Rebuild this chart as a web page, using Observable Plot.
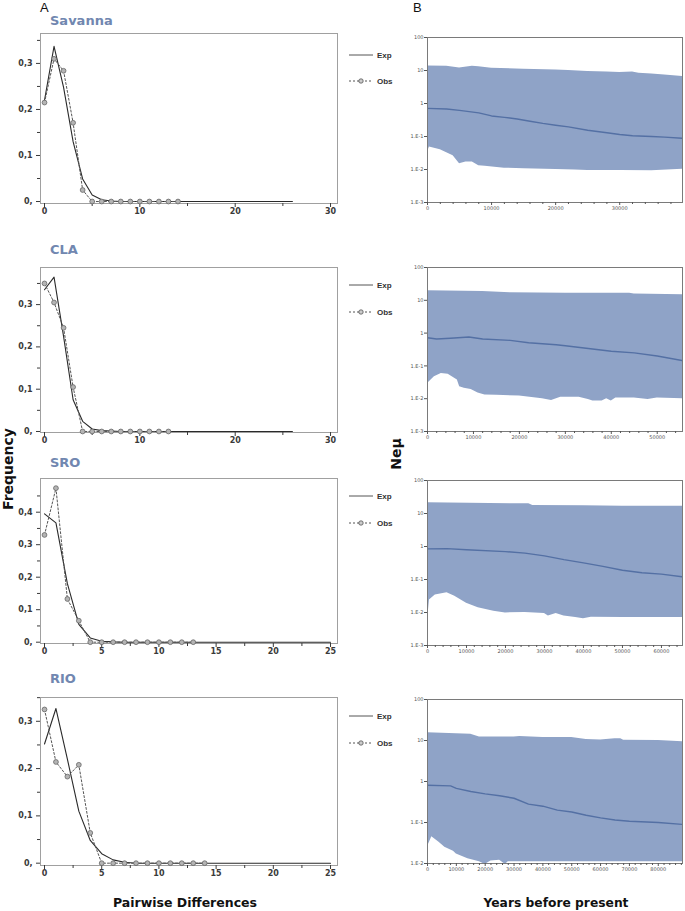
<!DOCTYPE html>
<html><head><meta charset="utf-8">
<script src="https://cdn.jsdelivr.net/npm/d3@7"></script>
<script src="https://cdn.jsdelivr.net/npm/@observablehq/plot@0.6"></script>
<style>
body{margin:0;background:#fff;}
#chart{position:relative;width:685px;height:911px;overflow:hidden;font-family:"DejaVu Sans",sans-serif;}
#chart svg{position:absolute;overflow:visible;}
</style></head><body><div id="chart"></div>
<script>
// ---------- Mismatch distributions (left, panel A) ----------
const populations = ["Savanna", "CLA", "SRO", "RIO"];
const savExp = [0.22,0.337,0.248,0.13,0.049,0.014,0.004,0.001,0,0,0,0,0,0,0,0,0,0,0,0,0,0,0,0,0,0,0];
const savObs = [0.215,0.31,0.284,0.171,0.025,0,0,0,0,0,0,0,0,0,0];
const claExp = [0.335,0.365,0.225,0.075,0.024,0.006,0.002,0.001,0,0,0,0,0,0,0,0,0,0,0,0,0,0,0,0,0,0,0];
const claObs = [0.35,0.305,0.245,0.105,0,0,0,0,0,0,0,0,0,0];
const sroExp = [0.395,0.367,0.18,0.055,0.013,0.003,0.001,0,0,0,0,0,0,0,0,0,0,0,0,0,0,0,0,0,0,0];
const sroObs = [0.33,0.474,0.133,0.066,0,0,0,0,0,0,0,0,0,0];
const rioExp = [0.252,0.327,0.22,0.11,0.048,0.02,0.007,0.002,0,0,0,0,0,0,0,0,0,0,0,0,0,0,0,0,0,0];
const rioObs = [0.325,0.214,0.183,0.208,0.064,0,0,0,0,0,0,0,0,0,0];
const freqTicks30 = [0,10,20,30];
const freqTicks25 = [0,5,10,15,20,25];
const savYTicks = [0,0.1,0.2,0.3];
const claYTicks = [0,0.1,0.2,0.3];
const sroYTicks = [0,0.1,0.2,0.3,0.4];
const rioYTicks = [0,0.1,0.2,0.3];

// ---------- Bayesian skyline plots (right, panel B) : [years, Neμ] ----------
const savUpper = [[0,13.8],[3000,13.5],[5000,12.0],[7000,13.5],[8000,13.0],[10000,11.8],[15000,11.0],[20000,10.4],[22000,10.0],[25000,9.3],[28000,9.0],[30000,8.7],[32000,9.0],[33000,8.3],[35000,7.8],[37000,7.3],[39800,6.6]];
const savMedian = [[0,0.71],[3000,0.68],[5000,0.62],[8000,0.52],[10000,0.42],[12000,0.38],[14000,0.34],[16000,0.29],[18000,0.25],[20000,0.22],[22000,0.195],[25000,0.155],[28000,0.13],[30000,0.115],[32000,0.105],[35000,0.10],[37000,0.096],[39800,0.088]];
const savLower = [[0,0.034],[300,0.048],[2000,0.04],[4000,0.026],[5000,0.015],[6000,0.017],[7000,0.017],[8000,0.013],[9000,0.0125],[12000,0.011],[15000,0.0105],[20000,0.010],[23000,0.0097],[25000,0.0093],[30000,0.0094],[35000,0.0092],[39800,0.0101]];
const claUpper = [[0,19.6],[12000,18.4],[18000,17.0],[30000,16.3],[44000,16.3],[45000,15.6],[55500,14.8]];
const claMedian = [[0,0.72],[2000,0.66],[5000,0.70],[9000,0.76],[12000,0.66],[18000,0.60],[22000,0.51],[28000,0.44],[30000,0.41],[35000,0.34],[40000,0.28],[45000,0.25],[50000,0.20],[55500,0.145]];
const claLower = [[0,0.029],[1500,0.047],[3000,0.059],[4500,0.056],[6500,0.037],[7000,0.023],[8000,0.021],[9500,0.019],[11000,0.015],[12500,0.013],[15000,0.0128],[20000,0.012],[25000,0.010],[27000,0.0088],[29000,0.011],[33000,0.011],[35000,0.0095],[36000,0.0085],[38000,0.0085],[39000,0.010],[40000,0.0085],[41000,0.0105],[45000,0.0105],[48000,0.0095],[50000,0.0105],[55500,0.010]];
const sroUpper = [[0,21],[26000,19.6],[27000,17.5],[40000,17.2],[50000,16.5],[65400,16.5]];
const sroMedian = [[0,0.85],[5000,0.86],[10000,0.80],[20000,0.70],[25000,0.63],[30000,0.52],[35000,0.40],[40000,0.32],[45000,0.25],[50000,0.19],[55000,0.16],[60000,0.145],[65400,0.12]];
const sroLower = [[0,0.0057],[500,0.024],[2000,0.034],[5000,0.04],[7000,0.031],[10000,0.019],[13000,0.014],[17000,0.011],[20000,0.0097],[25000,0.010],[30000,0.0093],[31000,0.0078],[33000,0.0093],[35000,0.0078],[38000,0.0070],[40000,0.0065],[42000,0.0072],[50000,0.0070],[65400,0.0070]];
const rioUpper = [[0,15.4],[15000,14.3],[18000,12.2],[30000,12.2],[32000,12.6],[40000,11.9],[50000,11.9],[55000,10.6],[60000,10.3],[65000,11.0],[67000,11.0],[68000,10.2],[80000,10.0],[88400,9.3]];
const rioMedian = [[0,0.81],[8000,0.78],[10000,0.68],[15000,0.57],[20000,0.50],[25000,0.45],[30000,0.39],[35000,0.28],[40000,0.25],[45000,0.20],[50000,0.18],[55000,0.15],[60000,0.13],[65000,0.115],[70000,0.107],[80000,0.10],[88400,0.09]];
const rioLower = [[0,0.0255],[1500,0.045],[4000,0.033],[6000,0.025],[9000,0.02],[10000,0.017],[14000,0.013],[18000,0.011],[20000,0.0095],[22000,0.0115],[25000,0.012],[27000,0.0095],[28000,0.011],[40000,0.011],[60000,0.011],[88400,0.011]];
const yearTicks40 = [0,10000,20000,30000];
const yearTicks55 = [0,10000,20000,30000,40000,50000];
const yearTicks65 = [0,10000,20000,30000,40000,50000,60000];
const yearTicks88 = [0,10000,20000,30000,40000,50000,60000,70000,80000];
const neTicks5 = [0.001,0.01,0.1,1,10,100];
const neTicks4 = [0.01,0.1,1,10,100];

const legendLabels = ["Exp", "Obs"];

// ---------- layout ----------
const chart = document.getElementById("chart");
const fmtComma = d => d === 0 ? "0," : String(d).replace(".", ",");
const fmtNe = d => d >= 1 ? String(d) : "1.E" + Math.round(Math.log10(d));

const leftCfg = [
  {exp: savExp, obs: savObs, yt: savYTicks, xt: freqTicks30, frame: [33, 203], yDom: [-0.0043, 0.365], xDom: [-0.42, 30.73], leg: [55, 81]},
  {exp: claExp, obs: claObs, yt: claYTicks, xt: freqTicks30, frame: [267, 432], yDom: [-0.0024, 0.3877], xDom: [-0.42, 30.73], leg: [285, 312]},
  {exp: sroExp, obs: sroObs, yt: sroYTicks, xt: freqTicks25, frame: [478, 643], yDom: [-0.004, 0.5037], xDom: [-0.35, 25.61], leg: [496, 523]},
  {exp: rioExp, obs: rioObs, yt: rioYTicks, xt: freqTicks25, frame: [697, 865], yDom: [-0.0049, 0.3503], xDom: [-0.35, 25.61], leg: [716, 743]}
];
const rightCfg = [
  {up: savUpper, md: savMedian, lo: savLower, xt: yearTicks40, frame: [37, 202], xMax: 39800, yt: neTicks5},
  {up: claUpper, md: claMedian, lo: claLower, xt: yearTicks55, frame: [267, 431], xMax: 55500, yt: neTicks5},
  {up: sroUpper, md: sroMedian, lo: sroLower, xt: yearTicks65, frame: [480, 645], xMax: 65400, yt: neTicks5},
  {up: rioUpper, md: rioMedian, lo: rioLower, xt: yearTicks88, frame: [699, 863], xMax: 88400, yt: neTicks4}
];

function place(svg, left, top) {
  svg.style.position = "absolute";
  svg.style.left = left + "px";
  svg.style.top = top + "px";
  chart.appendChild(svg);
}

leftCfg.forEach(p => {
  const expData = p.exp.map((v, i) => ({x: i, y: v}));
  const obsData = p.obs.map((v, i) => ({x: i, y: v}));
  const step = p.yt[1] - p.yt[0];
  const yMinor = p.yt.map(t => +(t + step / 2).toFixed(3)).filter(t => t < p.yDom[1]);
  const xs = p.xt[1] - p.xt[0];
  const xMinor = p.xt.slice(0, -1).map(t => t + xs / 2);
  const mt = 6, mb = 20;
  const svg = Plot.plot({
    width: 340, height: p.frame[1] - p.frame[0] + mt + mb,
    marginTop: mt, marginBottom: mb, marginLeft: 40, marginRight: 3,
    x: {domain: p.xDom}, y: {domain: p.yDom},
    style: {color: "#3a3a3a", background: "transparent", fontFamily: "DejaVu Sans", overflow: "visible"},
    marks: [
      Plot.frame({stroke: "#a0a0a0"}),
      Plot.axisY(p.yt, {tickSize: 4, tickPadding: 4, tickFormat: fmtComma, fontSize: 8, fontWeight: "bold", label: null}),
      Plot.axisY(yMinor, {tickSize: 3, tickFormat: () => "", label: null}),
      Plot.axisX(p.xt, {tickSize: 4, tickPadding: 1, fontSize: 8, fontWeight: "bold", label: null}),
      Plot.axisX(xMinor, {tickSize: 3, tickFormat: () => "", label: null}),
      Plot.line(expData, {x: "x", y: "y", stroke: "#2a2a2a", strokeWidth: 1.1}),
      Plot.line(obsData, {x: "x", y: "y", stroke: "#555", strokeWidth: 1, strokeDasharray: "2,2"}),
      Plot.dot(obsData, {x: "x", y: "y", r: 2.4, fill: "#b4b4b4", stroke: "#666", strokeWidth: 0.8})
    ]
  });
  place(svg, 0, p.frame[0] - mt);
});

rightCfg.forEach(p => {
  const mt = 6, mb = 12;
  const yMin = p.yt[0];
  const xs = p.xt[1] - p.xt[0];
  const xMinor = d3.range(0, p.xMax, xs / 5).filter(v => v % xs !== 0);
  const svg = Plot.plot({
    width: 285, height: p.frame[1] - p.frame[0] + mt + mb,
    marginTop: mt, marginBottom: mb, marginLeft: 27, marginRight: 3,
    x: {domain: [0, p.xMax]}, y: {type: "log", domain: [yMin, 100]},
    style: {color: "#555", background: "transparent", fontFamily: "DejaVu Sans", overflow: "visible"},
    marks: [
      Plot.areaY(p.up, {x: d => d[0], y1: yMin, y2: d => d[1], fill: "#8fa3c7", clip: true}),
      Plot.areaY(p.lo, {x: d => d[0], y1: yMin, y2: d => d[1], fill: "#ffffff", clip: true}),
      Plot.line(p.md, {x: d => d[0], y: d => d[1], stroke: "#5470a4", strokeWidth: 1.4, clip: true}),
      Plot.frame({stroke: "#7a7a7a"}),
      Plot.axisY(p.yt, {tickSize: 3, tickPadding: 1, tickFormat: fmtNe, fontSize: 5, label: null}),
      Plot.axisX(p.xt, {tickSize: 3, tickPadding: 1, tickFormat: d => String(d), fontSize: 5, label: null}),
      Plot.axisX(xMinor, {tickSize: 2, tickFormat: () => "", label: null})
    ]
  });
  place(svg, 400, p.frame[0] - mt);
});

// ---------- text overlay ----------
const ov = d3.select(chart).append("svg")
  .attr("width", 685).attr("height", 911)
  .style("left", "0px").style("top", "0px").style("pointer-events", "none");

ov.append("text").attr("x", 40).attr("y", 12).attr("font-family", "Liberation Sans, Arial, sans-serif")
  .attr("font-size", 13).attr("fill", "#111").text("A");
ov.append("text").attr("x", 413).attr("y", 12).attr("font-family", "Liberation Sans, Arial, sans-serif")
  .attr("font-size", 13).attr("fill", "#111").text("B");

const titleY = [25, 254, 467, 683];
populations.forEach((name, i) => {
  ov.append("text").attr("x", 50).attr("y", titleY[i])
    .attr("font-family", "DejaVu Sans, sans-serif").attr("font-weight", "bold")
    .attr("font-size", 13).attr("fill", "#7187b0").text(name);
});

leftCfg.forEach(p => {
  const [ye, yo] = p.leg;
  ov.append("line").attr("x1", 349).attr("x2", 373).attr("y1", ye).attr("y2", ye)
    .attr("stroke", "#555").attr("stroke-width", 1);
  ov.append("line").attr("x1", 349).attr("x2", 373).attr("y1", yo).attr("y2", yo)
    .attr("stroke", "#555").attr("stroke-width", 1).attr("stroke-dasharray", "2,2");
  ov.append("circle").attr("cx", 361).attr("cy", yo).attr("r", 2.2)
    .attr("fill", "#ccc").attr("stroke", "#555").attr("stroke-width", 0.8);
  [ye, yo].forEach((y, k) => {
    ov.append("text").attr("x", 377).attr("y", y + 3)
      .attr("font-family", "Liberation Sans Narrow, Liberation Sans, sans-serif").attr("font-weight", "bold")
      .attr("font-size", 8).attr("fill", "#333").text(legendLabels[k]);
  });
});

ov.append("text").attr("transform", "translate(13,469) rotate(-90)").attr("text-anchor", "middle")
  .attr("font-family", "DejaVu Sans, sans-serif").attr("font-weight", "bold")
  .attr("font-size", 14).attr("fill", "#111").text("Frequency");
ov.append("text").attr("transform", "translate(401,454) rotate(-90)").attr("text-anchor", "middle")
  .attr("font-family", "DejaVu Sans, sans-serif").attr("font-weight", "bold")
  .attr("font-size", 14).attr("fill", "#111").text("Neμ");
ov.append("text").attr("x", 185).attr("y", 907).attr("text-anchor", "middle")
  .attr("font-family", "DejaVu Sans, sans-serif").attr("font-weight", "bold")
  .attr("font-size", 13).attr("textLength", 144).attr("lengthAdjust", "spacingAndGlyphs")
  .attr("fill", "#111").text("Pairwise Differences");
ov.append("text").attr("x", 556).attr("y", 907).attr("text-anchor", "middle")
  .attr("font-family", "DejaVu Sans, sans-serif").attr("font-weight", "bold")
  .attr("font-size", 13).attr("textLength", 145).attr("lengthAdjust", "spacingAndGlyphs")
  .attr("fill", "#111").text("Years before present");
</script>
</body></html>
